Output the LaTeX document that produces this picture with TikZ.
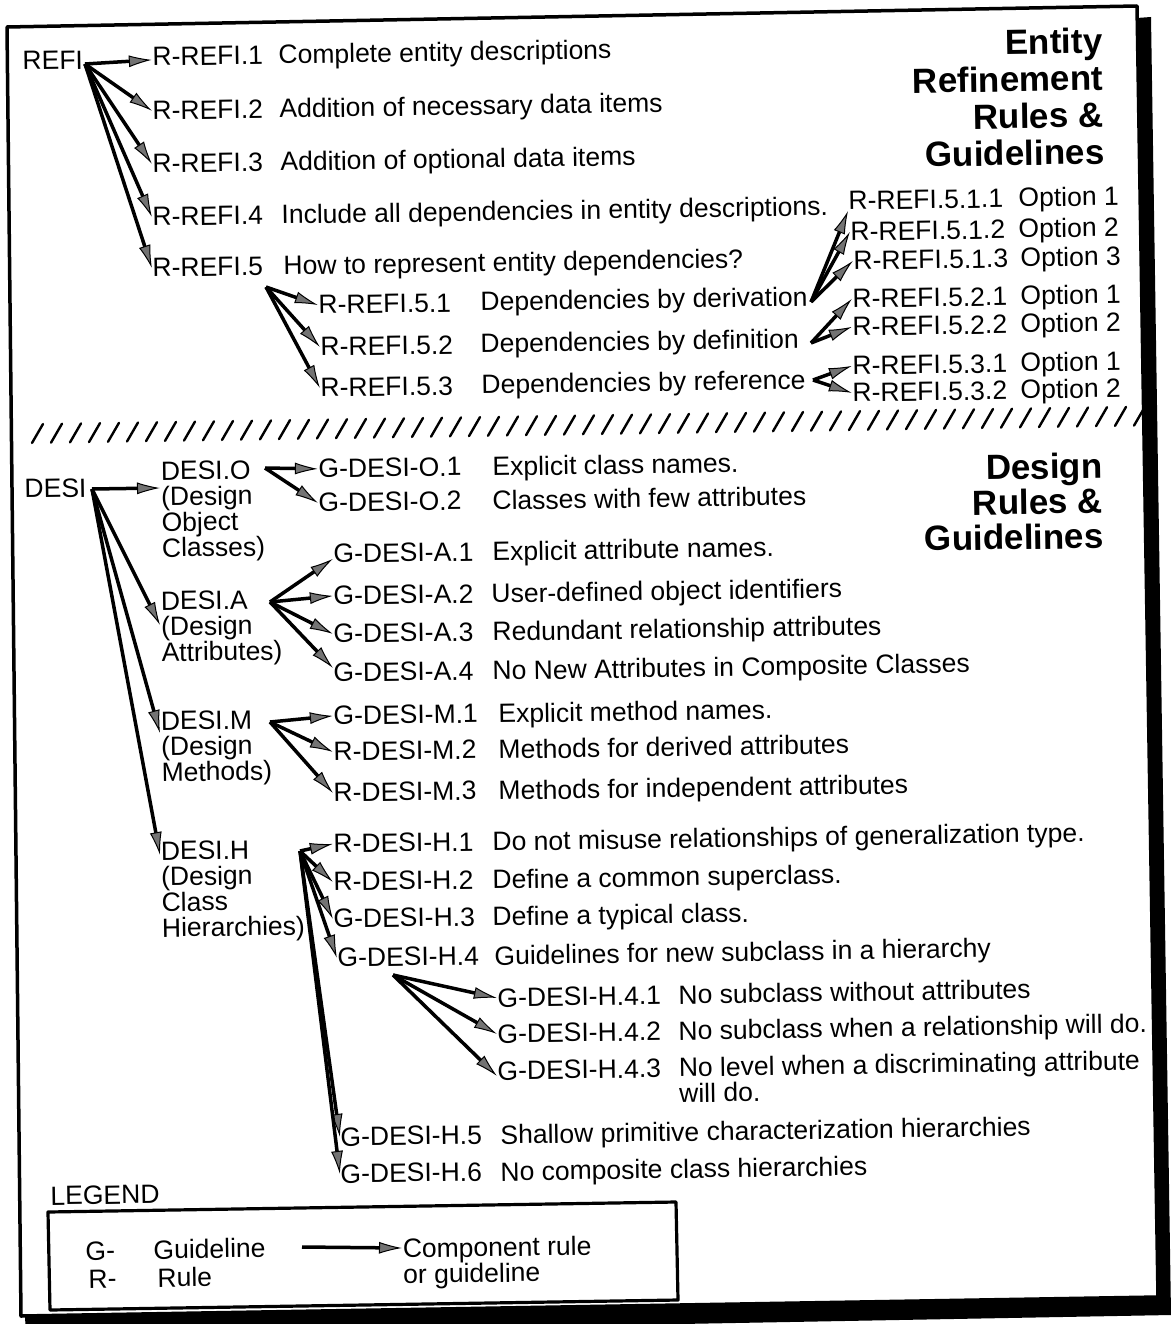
\documentclass[tikz,border=0pt]{standalone}
\usepackage{fontspec}
\setmainfont{Liberation Sans}
\usetikzlibrary{arrows.meta}

\begin{document}
\begin{tikzpicture}[x=1pt,y=-1pt,line join=round,
    >={Latex[length=23pt,width=12pt,line width=1pt,fill=black!55]},
    every node/.style={rotate=0.9,inner sep=0.5pt,font=\fontsize{26.5}{25.7}\selectfont},
    lbl/.style={anchor=base west},
    blk/.style={anchor=north west,align=left},
    ttl/.style={anchor=north east,align=right,font=\bfseries\fontsize{35}{37}\selectfont},
    link/.style={->,line width=3.5pt}]
  \useasboundingbox (0,0) rectangle (1170,1324);

  % shadow and sheet
  \fill (1137,18) -- (1151,17) -- (1171,1315) -- (26,1336) -- (25,1316) -- (1158,1297) -- cycle;
  \draw[line width=3.5pt,fill=white] (7,27) -- (1137,6) -- (1158,1297) -- (21,1316) -- cycle;

  % cut between the two parts
  \foreach \k in {0,...,58}
    \draw[line width=2.4pt,line cap=round] ({32+19*\k},{443-0.3*\k}) -- ++(11,-19);

  % titles
  \node[ttl] (ttlrefi) at (1103,27) {Entity\\Refinement\\Rules \&\\Guidelines};
  \node[ttl,font=\bfseries\fontsize{35}{35}\selectfont] (ttldesi) at (1103,452) {Design\\Rules \&\\Guidelines};

  % entity refinement
  \node[lbl] (refi) at (22,70) {REFI};
  \node[lbl] (r1) at (152,66) {R-REFI.1};
  \node[lbl] (r1d) at (278,64) {Complete entity descriptions};
  \node[lbl] (r2) at (152,120) {R-REFI.2};
  \node[lbl] (r2d) at (279,118) {Addition of necessary data items};
  \node[lbl] (r3) at (152,173) {R-REFI.3};
  \node[lbl] (r3d) at (280,171) {Addition of optional data items};
  \node[lbl] (r4) at (152,226) {R-REFI.4};
  \node[lbl] (r4d) at (281,224) {Include all dependencies in entity descriptions.};
  \node[lbl] (r5) at (152,277) {R-REFI.5};
  \node[lbl] (r5d) at (283,275) {How to represent entity dependencies?};
  \node[lbl] (r51) at (318,314) {R-REFI.5.1};
  \node[lbl] (r51d) at (480,311) {Dependencies by derivation};
  \node[lbl] (r52) at (320,356) {R-REFI.5.2};
  \node[lbl] (r52d) at (480,353) {Dependencies by definition};
  \node[lbl] (r53) at (320,397) {R-REFI.5.3};
  \node[lbl] (r53d) at (481,394) {Dependencies by reference};

  \node[lbl] (r511) at (848,210) {R-REFI.5.1.1};
  \node[lbl] (r511d) at (1018,207) {Option 1};
  \node[lbl] (r512) at (850,241) {R-REFI.5.1.2};
  \node[lbl] (r512d) at (1018,238) {Option 2};
  \node[lbl] (r513) at (853,270) {R-REFI.5.1.3};
  \node[lbl] (r513d) at (1020,267) {Option 3};
  \node[lbl] (r521) at (852,308) {R-REFI.5.2.1};
  \node[lbl] (r521d) at (1020,305) {Option 1};
  \node[lbl] (r522) at (852,336) {R-REFI.5.2.2};
  \node[lbl] (r522d) at (1020,333) {Option 2};
  \node[lbl] (r531) at (852,375) {R-REFI.5.3.1};
  \node[lbl] (r531d) at (1020,372) {Option 1};
  \node[lbl] (r532) at (852,402) {R-REFI.5.3.2};
  \node[lbl] (r532d) at (1020,399) {Option 2};

  \coordinate (refifan) at (85,64);
  \coordinate (r5fan) at (266,287);
  \coordinate (derivfan) at (811,302);
  \coordinate (deffan) at (811,343);
  \coordinate (reffan) at (813,380);
  \draw[link] (refifan) -- ([yshift=-3pt]r1.west);
  \foreach \n in {r2,r3,r4,r5}
    \draw[link] (refifan) -- (\n.west);
  \foreach \n in {r51,r52,r53}
    \draw[link] (r5fan) -- (\n.west);
  \draw[link] (derivfan) -- (r511.south west);
  \draw[link] (derivfan) -- (r512.west);
  \draw[link] (derivfan) -- (r513.west);
  \foreach \n in {r521,r522}
    \draw[link] (deffan) -- (\n.west);
  \foreach \n in {r531,r532}
    \draw[link] (reffan) -- (\n.west);

  % design
  \node[lbl] (desi) at (24,498) {DESI};
  \node[blk] (desio) at (160,461) {DESI.O\\(Design\\Object\\Classes)};
  \node[blk] (desia) at (160,591) {DESI.A\\(Design\\Attributes)};
  \node[blk] (desim) at (160,711) {DESI.M\\(Design\\Methods)};
  \node[blk] (desih) at (160,841) {DESI.H\\(Design\\Class\\Hierarchies)};

  \node[lbl] (go1) at (318,478) {G-DESI-O.1};
  \node[lbl] (go1d) at (492,476) {Explicit class names.};
  \node[lbl] (go2) at (318,512) {G-DESI-O.2};
  \node[lbl] (go2d) at (492,510) {Classes with few attributes};
  \node[lbl] (ga1) at (333,563) {G-DESI-A.1};
  \node[lbl] (ga1d) at (492,561) {Explicit attribute names.};
  \node[lbl] (ga2) at (333,605) {G-DESI-A.2};
  \node[lbl] (ga2d) at (491,603) {User-defined object identifiers};
  \node[lbl] (ga3) at (333,643) {G-DESI-A.3};
  \node[lbl] (ga3d) at (492,641) {Redundant relationship attributes};
  \node[lbl] (ga4) at (333,682) {G-DESI-A.4};
  \node[lbl] (ga4d) at (492,680) {No New Attributes in Composite Classes};
  \node[lbl] (gm1) at (333,725) {G-DESI-M.1};
  \node[lbl] (gm1d) at (498,723) {Explicit method names.};
  \node[lbl] (rm2) at (333,761) {R-DESI-M.2};
  \node[lbl] (rm2d) at (498,759) {Methods for derived attributes};
  \node[lbl] (rm3) at (333,802) {R-DESI-M.3};
  \node[lbl] (rm3d) at (498,800) {Methods for independent attributes};
  \node[lbl] (rh1) at (333,853) {R-DESI-H.1};
  \node[lbl] (rh1d) at (492,851) {Do not misuse relationships of generalization type.};
  \node[lbl] (rh2) at (333,891) {R-DESI-H.2};
  \node[lbl] (rh2d) at (492,889) {Define a common superclass.};
  \node[lbl] (gh3) at (333,928) {G-DESI-H.3};
  \node[lbl] (gh3d) at (492,926) {Define a typical class.};
  \node[lbl] (gh4) at (337,967) {G-DESI-H.4};
  \node[lbl] (gh4d) at (494,965) {Guidelines for new subclass in a hierarchy};
  \node[lbl] (gh41) at (497,1007) {G-DESI-H.4.1};
  \node[lbl] (gh41d) at (678,1004) {No subclass without attributes};
  \node[lbl] (gh42) at (497,1043) {G-DESI-H.4.2};
  \node[lbl] (gh42d) at (678,1040) {No subclass when a relationship will do.};
  \node[lbl] (gh43) at (497,1080) {G-DESI-H.4.3};
  \node[blk] (gh43d) at (678,1057) {No level when a discriminating attribute\\will do.};
  \node[lbl] (gh5) at (340,1146) {G-DESI-H.5};
  \node[lbl] (gh5d) at (500,1144) {Shallow primitive characterization hierarchies};
  \node[lbl] (gh6) at (340,1183) {G-DESI-H.6};
  \node[lbl] (gh6d) at (500,1181) {No composite class hierarchies};

  \coordinate (desifan) at (92,489);
  \coordinate (dofan) at (265,468);
  \coordinate (dafan) at (270,602);
  \coordinate (dmfan) at (270,722);
  \coordinate (dhfan) at (300,851);
  \coordinate (h4fan) at (393,975);
  \draw[link] (desifan) -- ([yshift=-27pt]desio.north west);
  \draw[link] (desifan) -- ([yshift=-34pt]desia.north west);
  \draw[link] (desifan) -- ([yshift=-22pt]desim.north west);
  \draw[link] (desifan) -- ([yshift=-14pt]desih.north west);
  \foreach \n in {go1,go2}
    \draw[link] (dofan) -- (\n.west);
  \draw[link] (dafan) -- ([yshift=-5pt]ga1.west);
  \draw[link] (dafan) -- (ga2.west);
  \draw[link] (dafan) -- (ga3.west);
  \draw[link] (dafan) -- ([yshift=5pt]ga4.west);
  \foreach \n in {gm1,rm2,rm3}
    \draw[link] (dmfan) -- (\n.west);
  \foreach \n in {rh1,rh2,gh3,gh4,gh5,gh6}
    \draw[link] (dhfan) -- (\n.west);
  \draw[link] (h4fan) -- (gh41.west);
  \draw[link] (h4fan) -- (gh42.west);
  \draw[link] (h4fan) -- ([yshift=-5pt]gh43.west);

  % legend
  \node[lbl] (leg) at (50,1205) {LEGEND};
  \draw[line width=3.2pt] (48,1212) -- (676,1202) -- (678,1300) -- (50,1310) -- cycle;
  \node[lbl] (lg) at (85,1260) {G-};
  \node[lbl] (lgd) at (153,1259) {Guideline};
  \node[lbl] (lr) at (88,1288) {R-};
  \node[lbl] (lrd) at (157,1287) {Rule};
  \node[blk] (legcomp) at (402,1238) {Component rule\\or guideline};
  \coordinate (legtail) at (302,1247);
  \draw[link] (legtail) -- ([yshift=-10pt]legcomp.north west);
\end{tikzpicture}
\end{document}
